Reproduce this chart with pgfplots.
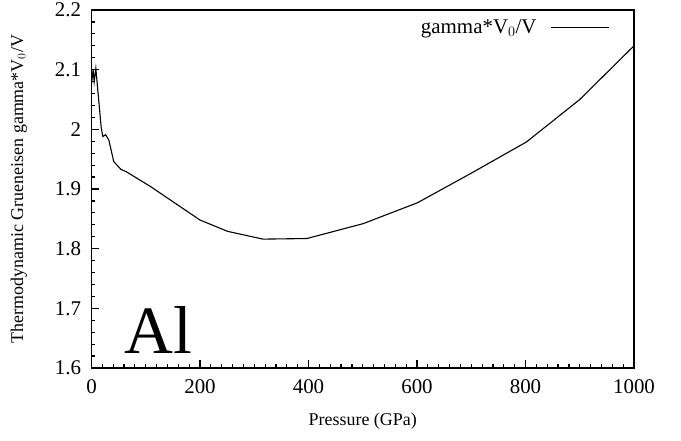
\documentclass[border=0pt]{standalone}
\usepackage{fontspec}
\setmainfont{Liberation Serif}
\usepackage{pgfplots}
\pgfplotsset{compat=1.18}
\begin{document}
\begin{tikzpicture}
\useasboundingbox (-91.5bp,-73bp) rectangle (589.5bp,368bp);
\begin{axis}[
  scale only axis,
  width=542.5bp, height=358bp,
  xmin=0, xmax=1000, ymin=1.6, ymax=2.2,
  xtick={0,200,400,600,800,1000},
  xticklabels={0,200,400,600,800,1000},
  ytick={1.6,1.7,1.8,1.9,2,2.1,2.2},
  yticklabels={1.6,1.7,1.8,1.9,2,2.1,2.2},
  minor x tick num=9,
  minor y tick num=4,
  tick pos=left,
  tick align=inside,
  major tick length=8bp,
  minor tick length=4bp,
  axis line style={line width=1.4bp},
  every tick/.style={line width=1.2bp, black},
  /pgf/number format/assume math mode=true,
  ticklabel style={font=\fontsize{21}{21}\selectfont},
  xticklabel style={yshift=-8bp},
  yticklabel style={xshift=-7bp},
  xlabel={Pressure (GPa)},
  ylabel={Thermodynamic Grueneisen gamma*V$_0$/V},
  xlabel style={font=\fontsize{18}{18}\selectfont, at={(axis description cs:0.5,-0.149)}, anchor=center},
  ylabel style={font=\fontsize{18}{18}\selectfont, at={(axis description cs:-0.134,0.5)}, anchor=center, rotate=0},
  legend plot pos=right,
  legend style={at={(axis description cs:0.961,0.985)}, anchor=north east, draw=none, fill=none, font=\fontsize{21}{21}\selectfont},
  legend image code/.code={\path (0bp,0bp); \draw[#1] (12bp,0bp) -- (70bp,0bp);},
]
\addplot[black, line width=1.1bp] coordinates {
(0,2.075) (3,2.10) (5,2.08) (8,2.102) (18,2.002) (21,1.988) (26,1.991) (32,1.982)
(41,1.946) (54,1.933) (64,1.929) (109,1.904) (200,1.848) (251,1.829)
(316,1.816) (397,1.817) (501,1.842) (601,1.877) (699,1.926) (802,1.979)
(900,2.050) (1000,2.14)
};
\addlegendentry{gamma*V$_0$/V}
\node[anchor=base west, inner sep=0pt, font=\fontsize{68}{68}\selectfont] at (axis cs:60,1.625) {Al};
\end{axis}
\end{tikzpicture}
\end{document}
